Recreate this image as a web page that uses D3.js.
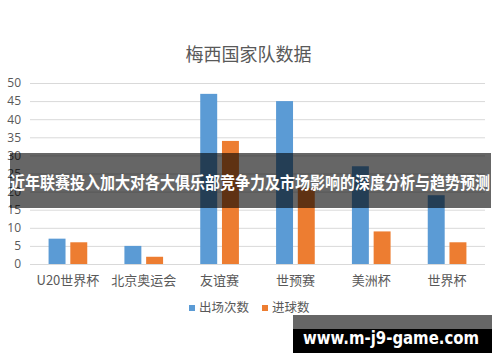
<!DOCTYPE html>
<html>
<head>
<meta charset="utf-8">
<script src="https://cdn.jsdelivr.net/npm/d3@7"></script>
<style>
  html, body { margin: 0; padding: 0; background: #fff; }
  svg { display: block; }
</style>
</head>
<body>
<svg id="chart" width="500" height="362"></svg>
<script>
// data
const categories = ['U20世界杯', '北京奥运会', '友谊赛', '世预赛', '美洲杯', '世界杯'];
const seriesNames = ['出场次数', '进球数'];
const appearances = [7, 5, 47, 45, 27, 19];
const goals = [6, 2, 34, 21, 9, 6];
const yTicks = [0, 5, 10, 15, 20, 25, 30, 35, 40, 45, 50];
const colors = ['#5b9bd5', '#ed7d31'];

const title = '梅西国家队数据';
const bannerText = '近年联赛投入加大对各大俱乐部竞争力及市场影响的深度分析与趋势预测';
const watermark = 'www.m-j9-game.com';

const width = 500;
const height = 362;
const margin = {top: 83, right: 15, bottom: 98, left: 30};
const fontCJK = '"Noto Sans CJK SC", "Noto Sans", sans-serif';
const textColor = '#595959';

const svg = d3.select('#chart');

const rows = categories.map((c, i) => ({
  category: c,
  values: [appearances[i], goals[i]],
}));

const x0 = d3.scaleBand()
  .domain(categories)
  .range([margin.left, width - margin.right])
  .paddingInner(0.49)
  .paddingOuter(0.245);

const x1 = d3.scaleBand()
  .domain(d3.range(seriesNames.length))
  .range([0, x0.bandwidth()])
  .paddingInner(0.22);

const y = d3.scaleLinear()
  .domain([0, 50])
  .range([height - margin.bottom, margin.top]);

// title
svg.append('text')
  .attr('x', 248.5)
  .attr('y', 55)
  .attr('dy', '0.35em')
  .attr('text-anchor', 'middle')
  .attr('font-family', fontCJK)
  .attr('font-size', 18)
  .attr('fill', textColor)
  .text(title);

// gridlines + y labels
const yAxis = d3.axisLeft(y)
  .tickValues(yTicks)
  .tickSize(-(width - margin.left - margin.right))
  .tickPadding(9);

const gy = svg.append('g')
  .attr('transform', `translate(${margin.left},0)`)
  .call(yAxis);
gy.select('.domain').remove();
gy.selectAll('.tick line').attr('stroke', '#d9d9d9');
gy.selectAll('.tick text')
  .attr('fill', textColor)
  .attr('font-family', '"Open Sans", "Noto Sans", sans-serif')
  .attr('font-size', 12);

// bars
const groups = svg.append('g')
  .selectAll('g')
  .data(rows)
  .join('g')
  .attr('transform', (d) => `translate(${x0(d.category)},0)`);

groups.selectAll('rect')
  .data((d) => d.values.map((v, i) => ({v, i})))
  .join('rect')
  .attr('x', (d) => x1(d.i))
  .attr('width', x1.bandwidth())
  .attr('y', (d) => y(d.v))
  .attr('height', (d) => y(0) - y(d.v))
  .attr('fill', (d) => colors[d.i]);

// category labels
const xAxis = d3.axisBottom(x0).tickSize(0).tickPadding(12);
const gx = svg.append('g')
  .attr('transform', `translate(0,${y(0)})`)
  .call(xAxis);
gx.select('.domain').remove();
gx.selectAll('.tick text')
  .attr('fill', textColor)
  .attr('font-family', fontCJK)
  .attr('font-size', 13);

// legend
const legendX = [189, 262];
const legend = svg.append('g')
  .selectAll('g')
  .data(seriesNames)
  .join('g')
  .attr('transform', (d, i) => `translate(${legendX[i]},308)`);
legend.append('rect')
  .attr('x', 0)
  .attr('y', -3)
  .attr('width', 6)
  .attr('height', 6)
  .attr('fill', (d, i) => colors[i]);
legend.append('text')
  .attr('x', 10)
  .attr('dy', '0.35em')
  .attr('font-family', fontCJK)
  .attr('font-size', 12.5)
  .attr('fill', textColor)
  .text((d) => d);

// overlay banner
svg.append('rect')
  .attr('x', 10)
  .attr('y', 153)
  .attr('width', 481)
  .attr('height', 55)
  .attr('fill', 'rgba(0,0,0,0.6)');
svg.append('text')
  .attr('x', 10)
  .attr('y', 183)
  .attr('dy', '0.35em')
  .attr('font-family', fontCJK)
  .attr('font-weight', 'bold')
  .attr('font-size', 17.5)
  .attr('fill', '#fff')
  .attr('textLength', 480)
  .attr('lengthAdjust', 'spacingAndGlyphs')
  .text(bannerText);

// watermark
svg.append('rect')
  .attr('x', 293)
  .attr('y', 315)
  .attr('width', 199)
  .attr('height', 14)
  .attr('fill', '#666');
svg.append('rect')
  .attr('x', 293)
  .attr('y', 329)
  .attr('width', 199)
  .attr('height', 24)
  .attr('fill', '#000');
svg.append('text')
  .attr('x', 303)
  .attr('y', 338)
  .attr('dy', '0.35em')
  .attr('font-family', '"DejaVu Sans", sans-serif')
  .attr('font-weight', 'bold')
  .attr('font-size', 17)
  .attr('fill', '#fff')
  .attr('textLength', 176)
  .attr('lengthAdjust', 'spacingAndGlyphs')
  .text(watermark);
</script>
</body>
</html>
